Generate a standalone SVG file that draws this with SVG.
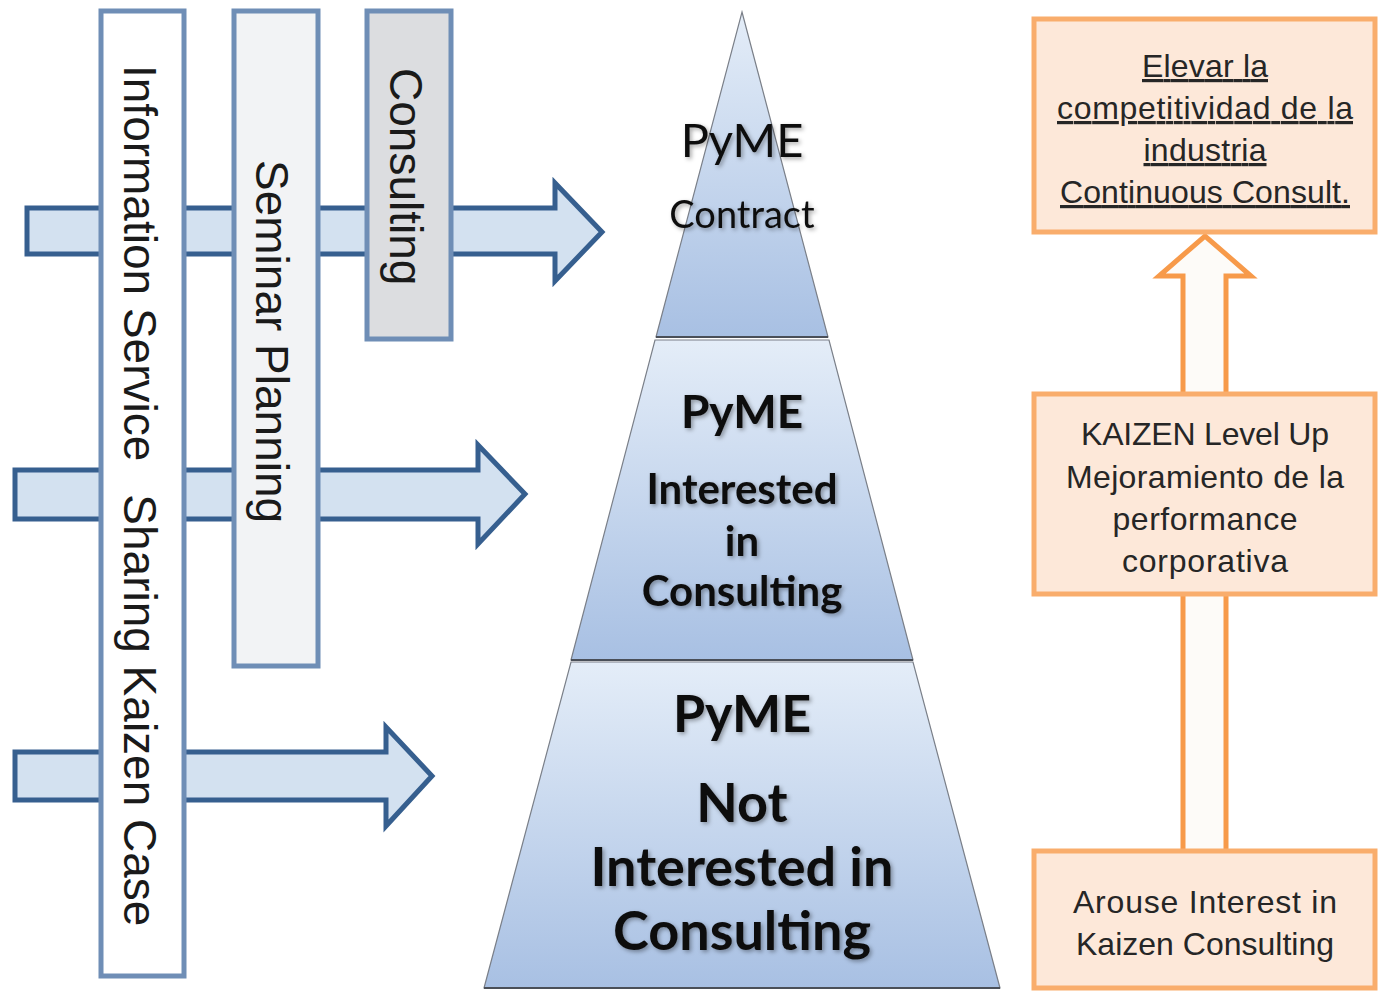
<svg xmlns="http://www.w3.org/2000/svg" width="1378" height="992" viewBox="0 0 1378 992">
<defs>
<linearGradient id="tierGrad" x1="0" y1="0" x2="0" y2="1">
<stop offset="0" stop-color="#e4edf8"/>
<stop offset="1" stop-color="#a8c0e3"/>
</linearGradient>
<filter id="shadow" x="-20%" y="-20%" width="140%" height="140%">
<feDropShadow dx="2" dy="2" stdDeviation="2" flood-color="#000" flood-opacity="0.35"/>
</filter>
<style>
.arrow{fill:#d3e1f0;stroke:#365f8f;stroke-width:5;stroke-linejoin:miter}
.bar{stroke:#6f8eb6;stroke-width:5}
.barText{font-family:"Liberation Sans",Arial,sans-serif;font-size:46px;fill:#1a1a1a}
.tier{fill:url(#tierGrad);stroke:#7a7f88;stroke-width:1.2}
.tierLine{stroke:#4a4f58;stroke-width:2}
.pyr{font-family:Lato,"Open Sans",sans-serif;fill:#111;text-anchor:middle;filter:url(#shadow)}
.pb{font-weight:bold}
.box{fill:#fde8d9;stroke:#f9ad6c;stroke-width:5}
.upArrow{fill:#fdfbf8;stroke:#f79a4a;stroke-width:5}
.boxText{font-family:"Liberation Sans",Arial,sans-serif;font-size:32px;fill:#262626;text-anchor:middle}
</style>
</defs>
<rect width="1378" height="992" fill="#ffffff"/>

<g id="connectors">
<polygon class="arrow" points="27,208 555,208 555,183 602,232 555,281 555,254 27,254"/>
<polygon class="arrow" points="15,470 478,470 478,445 525,494 478,544 478,519 15,519"/>
<polygon class="arrow" points="15,752 386,752 386,727 432,776 386,826 386,800 15,800"/>
<polygon class="upArrow" points="1183,900 1183,276 1159,276 1205,236 1251,276 1226,276 1226,900"/>
</g>

<g id="bar-information">
<rect class="bar" x="101" y="11" width="83" height="965" fill="#ffffff"/>
<text class="barText" transform="translate(124,65) rotate(90)">Information Service<tspan dx="33">Sharing Kaizen Case</tspan></text>
</g>
<g id="bar-seminar">
<rect class="bar" x="234" y="11" width="84" height="655" fill="#f2f3f5"/>
<text class="barText" transform="translate(256,160) rotate(90)">Seminar Planning</text>
</g>
<g id="bar-consulting">
<rect class="bar" x="367" y="11" width="84" height="328" fill="#dcdde0"/>
<text class="barText" transform="translate(390,68) rotate(90)">Consulting</text>
</g>

<g id="tier-contract">
<polygon class="tier" points="742,12 828,337 656,337"/>
<line class="tierLine" x1="656" y1="337" x2="828" y2="337"/>
<text class="pyr" x="742" y="157" font-size="47">PyME</text>
<text class="pyr" x="742" y="228" font-size="38">Contract</text>
</g>
<g id="tier-interested">
<polygon class="tier" points="655,340 829,340 913,660 571,660"/>
<line class="tierLine" x1="571" y1="660" x2="913" y2="660"/>
<text class="pyr pb" x="742" y="428" font-size="46">PyME</text>
<text class="pyr pb" x="742" y="504" font-size="42">Interested</text>
<text class="pyr pb" x="742" y="556" font-size="42">in</text>
<text class="pyr pb" x="742" y="606" font-size="42">Consulting</text>
</g>
<g id="tier-not-interested">
<polygon class="tier" points="571,662 913,662 1000,988 484,988"/>
<line class="tierLine" x1="484" y1="988" x2="1000" y2="988"/>
<text class="pyr pb" x="742" y="732" font-size="52">PyME</text>
<text class="pyr pb" x="742" y="822" font-size="54">Not</text>
<text class="pyr pb" x="742" y="886" font-size="54">Interested in</text>
<text class="pyr pb" x="742" y="950" font-size="54">Consulting</text>
</g>

<g id="box-elevar">
<rect class="box" x="1034" y="19" width="341" height="213"/>
<text class="boxText" text-decoration="underline"><tspan x="1205" y="77" textLength="126">Elevar la</tspan></text>
<text class="boxText" text-decoration="underline"><tspan x="1205" y="119" textLength="296">competitividad de la</tspan></text>
<text class="boxText" text-decoration="underline"><tspan x="1205" y="161" textLength="123">industria</tspan></text>
<text class="boxText" text-decoration="underline"><tspan x="1205" y="203" textLength="290">Continuous Consult.</tspan></text>
</g>
<g id="box-kaizen-level">
<rect class="box" x="1034" y="394" width="341" height="200"/>
<text class="boxText"><tspan x="1205" y="445" textLength="248">KAIZEN Level Up</tspan></text>
<text class="boxText"><tspan x="1205" y="488" textLength="278">Mejoramiento de la</tspan></text>
<text class="boxText"><tspan x="1205" y="530" textLength="185">performance</tspan></text>
<text class="boxText"><tspan x="1205" y="572" textLength="166">corporativa</tspan></text>
</g>
<g id="box-arouse">
<rect class="box" x="1034" y="851" width="341" height="137"/>
<text class="boxText"><tspan x="1205" y="913" textLength="264">Arouse Interest in</tspan></text>
<text class="boxText"><tspan x="1205" y="955" textLength="258">Kaizen Consulting</tspan></text>
</g>
</svg>
